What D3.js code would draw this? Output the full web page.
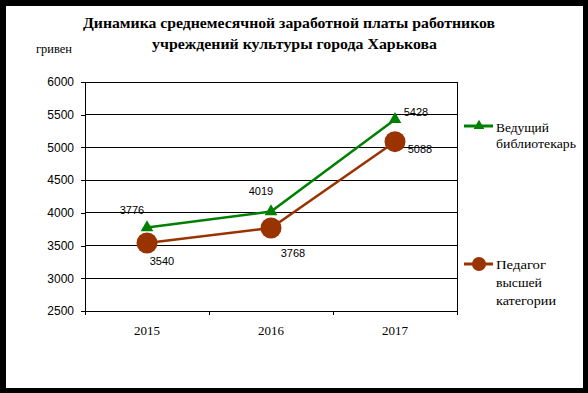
<!DOCTYPE html>
<html><head><meta charset="utf-8">
<script src="https://cdn.jsdelivr.net/npm/d3@7"></script>
<style>body{margin:0;background:#000;} svg{display:block;}</style>
</head><body>
<script>
const categories = ["2015", "2016", "2017"];
const seriesNames = [["Ведущий", "библиотекарь"], ["Педагог", "высшей", "категории"]];
const librarian = [3776, 4019, 5428];
const teacher = [3540, 3768, 5088];
const yTicks = [2500, 3000, 3500, 4000, 4500, 5000, 5500, 6000];
const titleLines = ["Динамика среднемесячной заработной платы работников", "учреждений культуры города Харькова"];
const unitLabel = "гривен";

const W = 588, H = 393;
const svg = d3.select("body").append("svg").attr("width", W).attr("height", H);
svg.append("rect").attr("width", W).attr("height", H).attr("fill", "#000");
svg.append("rect").attr("x", 6).attr("y", 6).attr("width", 577).attr("height", 382).attr("fill", "#fff");

const L = 85, R = 457, T = 82, B = 311;
const x = d3.scaleBand().domain(categories).range([L, R]);
const y = d3.scaleLinear().domain([2500, 6000]).range([B, T]);

const serif = "'Liberation Serif','Times New Roman',serif";
const sans = "'Liberation Sans',Arial,sans-serif";

// title
const titleLayout = [{x: 83, y: 28, w: 412}, {x: 152, y: 49, w: 285}];
svg.selectAll("text.title").data(titleLines).join("text").attr("class", "title")
  .attr("x", (d, i) => titleLayout[i].x).attr("y", (d, i) => titleLayout[i].y)
  .attr("textLength", (d, i) => titleLayout[i].w).attr("lengthAdjust", "spacingAndGlyphs")
  .attr("font-family", serif).attr("font-weight", "bold").attr("font-size", 15).text(d => d);

svg.append("text").attr("x", 36).attr("y", 53).attr("font-family", serif)
  .attr("textLength", 36).attr("lengthAdjust", "spacingAndGlyphs")
  .attr("font-size", 12).text(unitLabel);

// gridlines
svg.append("g").selectAll("line").data(yTicks).join("line")
  .attr("x1", L).attr("x2", R).attr("y1", d => y(d)).attr("y2", d => y(d))
  .attr("stroke", "#000").attr("stroke-width", 1).attr("shape-rendering", "crispEdges");
// plot border
svg.append("rect").attr("x", L).attr("y", T).attr("width", R - L).attr("height", B - T)
  .attr("fill", "none").attr("stroke", "#000").attr("shape-rendering", "crispEdges");

// y axis
const yAxis = svg.append("g").attr("transform", `translate(${L},0)`)
  .call(d3.axisLeft(y).tickValues(yTicks).tickSize(4).tickPadding(7).tickFormat(d3.format("d")));
yAxis.select(".domain").attr("shape-rendering", "crispEdges");
yAxis.selectAll(".tick line").attr("shape-rendering", "crispEdges");
yAxis.selectAll("text").attr("font-family", sans).attr("font-size", 12).attr("fill", "#000");

// x axis
const xAxis = svg.append("g").attr("transform", `translate(0,${B})`)
  .call(d3.axisBottom(x).tickSize(0).tickPadding(15));
xAxis.select(".domain").attr("shape-rendering", "crispEdges");
xAxis.selectAll("text").attr("font-family", serif).attr("font-size", 13).attr("fill", "#000");
const bounds = categories.map(c => x(c)).concat([x.range()[1]]);
xAxis.selectAll("line.bt").data(bounds).join("line").attr("class", "bt")
  .attr("x1", d => d).attr("x2", d => d).attr("y1", 0).attr("y2", 4)
  .attr("stroke", "#000").attr("shape-rendering", "crispEdges");

const cx = c => x(c) + x.bandwidth() / 2;
const green = "#008000", brown = "#993300";
const line = d3.line().x((d, i) => cx(categories[i])).y(d => y(d));

svg.append("path").datum(teacher).attr("d", line).attr("fill", "none")
  .attr("stroke", brown).attr("stroke-width", 2.5);
svg.append("path").datum(librarian).attr("d", line).attr("fill", "none")
  .attr("stroke", green).attr("stroke-width", 2.5);

const tri = d3.symbol().type(d3.symbolTriangle).size(70);
svg.append("g").selectAll("path").data(librarian).join("path")
  .attr("d", tri).attr("fill", green)
  .attr("transform", (d, i) => `translate(${cx(categories[i])},${y(d)})`);
svg.append("g").selectAll("circle").data(teacher).join("circle")
  .attr("cx", (d, i) => cx(categories[i])).attr("cy", d => y(d)).attr("r", 10.5).attr("fill", brown);

// data labels (offsets are styling)
const libOff = [[-15, -14], [-10, -17], [21, -3]];
const teaOff = [[15, 22], [22, 29], [25, 11]];
svg.append("g").selectAll("text").data(librarian).join("text")
  .attr("x", (d, i) => cx(categories[i]) + libOff[i][0]).attr("y", (d, i) => y(d) + libOff[i][1])
  .attr("text-anchor", "middle").attr("font-family", sans).attr("font-size", 11).text(d => d);
svg.append("g").selectAll("text").data(teacher).join("text")
  .attr("x", (d, i) => cx(categories[i]) + teaOff[i][0]).attr("y", (d, i) => y(d) + teaOff[i][1])
  .attr("text-anchor", "middle").attr("font-family", sans).attr("font-size", 11).text(d => d);

// legend
const legW = [[53, 80], [50, 46, 60]];
const leg = svg.append("g");
const g1 = leg.append("g").attr("transform", "translate(0,126)");
g1.append("line").attr("x1", 464).attr("x2", 493).attr("stroke", green).attr("stroke-width", 3);
g1.append("path").attr("d", d3.symbol().type(d3.symbolTriangle).size(50)).attr("fill", green).attr("transform", "translate(479,0)");
g1.selectAll("text").data(seriesNames[0]).join("text").attr("x", 496).attr("y", (d, i) => 6 + i * 16)
  .attr("textLength", (d, i) => legW[0][i]).attr("lengthAdjust", "spacingAndGlyphs")
  .attr("font-family", serif).attr("font-size", 13).text(d => d);
const g2 = leg.append("g").attr("transform", "translate(0,264)");
g2.append("line").attr("x1", 464).attr("x2", 493).attr("stroke", brown).attr("stroke-width", 3);
g2.append("circle").attr("cx", 479).attr("r", 7).attr("fill", brown);
g2.selectAll("text").data(seriesNames[1]).join("text").attr("x", 496).attr("y", (d, i) => 5 + i * 18)
  .attr("textLength", (d, i) => legW[1][i]).attr("lengthAdjust", "spacingAndGlyphs")
  .attr("font-family", serif).attr("font-size", 13).text(d => d);
</script>
</body></html>
